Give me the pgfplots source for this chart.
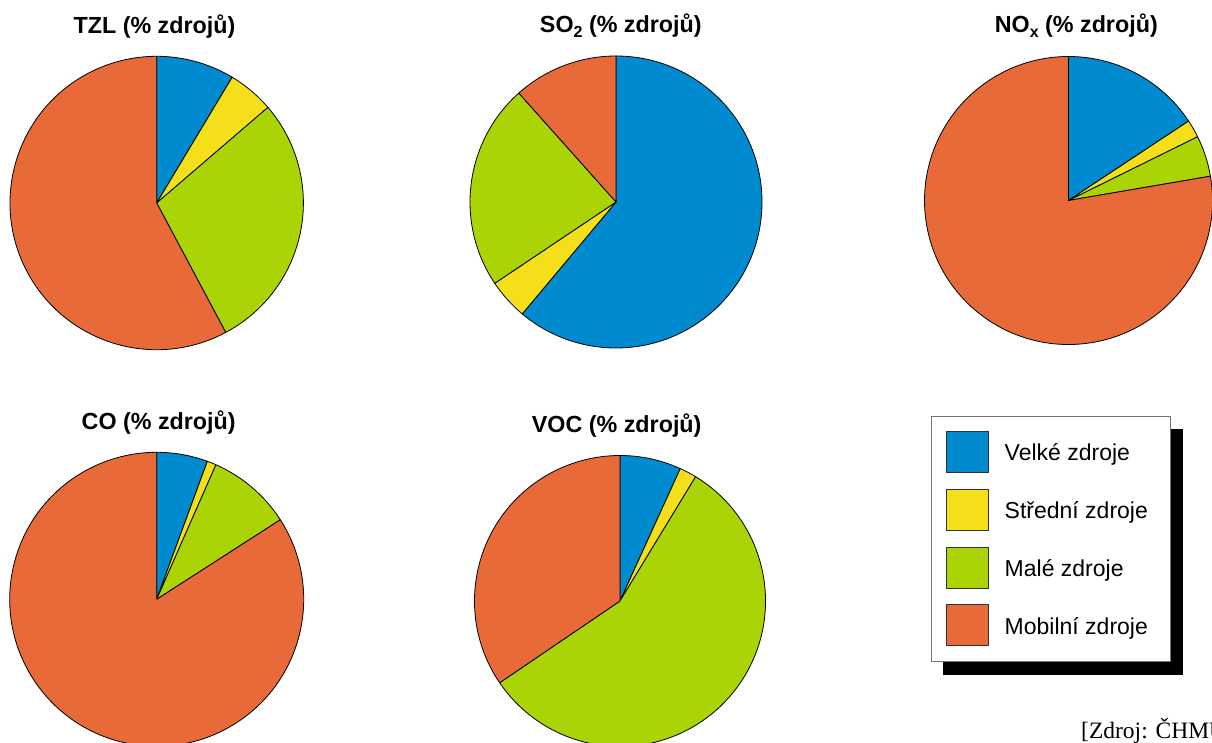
\documentclass[border=0pt]{standalone}
\usepackage{fontspec}
\setmainfont{Liberation Sans}
\newfontfamily\zdrojfont{Liberation Serif}
\usepackage{pgfplots}
\usepackage{pgfplotstable}
\pgfplotsset{compat=1.18}

\definecolor{cVelke}{RGB}{0,138,207}
\definecolor{cStredni}{RGB}{245,223,27}
\definecolor{cMale}{RGB}{171,212,6}
\definecolor{cMobilni}{RGB}{232,106,57}

% podíl zdrojů na emisích (%)
\pgfplotstableread{
zdroj   TZL  SO2  NOx  CO   VOC
Velke   8.6  61.1 15.7 5.6  6.8
Stredni 5.1  4.5  2.0  1.0  1.9
Male    28.5 22.8 4.6  9.3  56.8
Mobilni 57.8 11.6 77.7 84.1 34.5
}\emise

% koláč: sloupec, střed x, střed y, poloměr
\newcommand\kolac[4]{%
  \gdef\kumul{0}%
  \foreach \radek/\barva in {0/cVelke,1/cStredni,2/cMale,3/cMobilni}{%
    \pgfplotstablegetelem{\radek}{#1}\of\emise
    \pgfmathsetmacro\uhelA{90-3.6*\kumul}%
    \pgfmathsetmacro\novy{\kumul+\pgfplotsretval}%
    \global\let\kumul\novy
    \pgfmathsetmacro\uhelB{90-3.6*\kumul}%
    \edef\temp{\noexpand\filldraw[fill=\barva, draw=black, line width=0.8pt, line join=round]
      (axis cs:#2,#3) -- ++(\uhelA:#4pt) arc[start angle=\uhelA, end angle=\uhelB, radius=#4pt] -- cycle;}%
    \temp
  }%
}

\tikzset{
  nadpis/.style={anchor=base, inner sep=0pt, font=\fontsize{23.3}{27}\selectfont\bfseries},
  popis/.style={anchor=base west, inner sep=0pt, font=\fontsize{23}{27}\selectfont},
  ctverec/.style={draw=black!80, line width=0.8pt},
}

\begin{document}
\begin{tikzpicture}
\begin{axis}[at={(0,0)}, anchor=origin, x=1pt, y=1pt,
  xmin=0, xmax=1212, ymin=0, ymax=742, hide axis, clip=false]

  \kolac{TZL}{156.7}{539}{146.7}
  \kolac{SO2}{616}{540}{146}
  \kolac{NOx}{1068.5}{541.5}{144}
  \kolac{CO}{156.7}{142.7}{147}
  \kolac{VOC}{620}{141}{145.5}

  \node[nadpis] at (axis cs:154.5,708) {TZL (\% zdrojů)};
  \node[nadpis] at (axis cs:620.8,709.3) {SO\raisebox{-0.22em}{\fontsize{16}{16}\selectfont 2} (\% zdrojů)};
  \node[nadpis] at (axis cs:1076.3,709.3) {NO\raisebox{-0.22em}{\fontsize{16}{16}\selectfont x} (\% zdrojů)};
  \node[nadpis] at (axis cs:158.7,312.7) {CO (\% zdrojů)};
  \node[nadpis] at (axis cs:616.7,309.3) {VOC (\% zdrojů)};

  % legenda se stínem
  \fill[black] (axis cs:943,67) rectangle (axis cs:1182.7,313);
  \filldraw[fill=white, draw=black!55, line width=0.8pt] (axis cs:931,80.3) rectangle (axis cs:1170.7,325.3);

  \filldraw[fill=cVelke, ctverec]   (axis cs:946.7,269.3) rectangle (axis cs:988.3,310.3);
  \filldraw[fill=cStredni, ctverec] (axis cs:946.7,211.6) rectangle (axis cs:988.3,252.6);
  \filldraw[fill=cMale, ctverec]    (axis cs:946.7,153.9) rectangle (axis cs:988.3,194.9);
  \filldraw[fill=cMobilni, ctverec] (axis cs:946.7,96.2)  rectangle (axis cs:988.3,137.2);

  \node[popis] at (axis cs:1004.5,281)   {Velké zdroje};
  \node[popis] at (axis cs:1004.5,223.3) {Střední zdroje};
  \node[popis] at (axis cs:1004.5,165.6) {Malé zdroje};
  \node[popis] at (axis cs:1004.5,107.9) {Mobilní zdroje};

  \node[anchor=base west, inner sep=0pt, font=\zdrojfont\fontsize{23.5}{28}\selectfont]
    at (axis cs:1081,3.7) {[Zdroj: ČHMÚ]};
\end{axis}
\pgfresetboundingbox
\useasboundingbox (0,0) rectangle (1212pt,742pt);
\end{tikzpicture}
\end{document}
